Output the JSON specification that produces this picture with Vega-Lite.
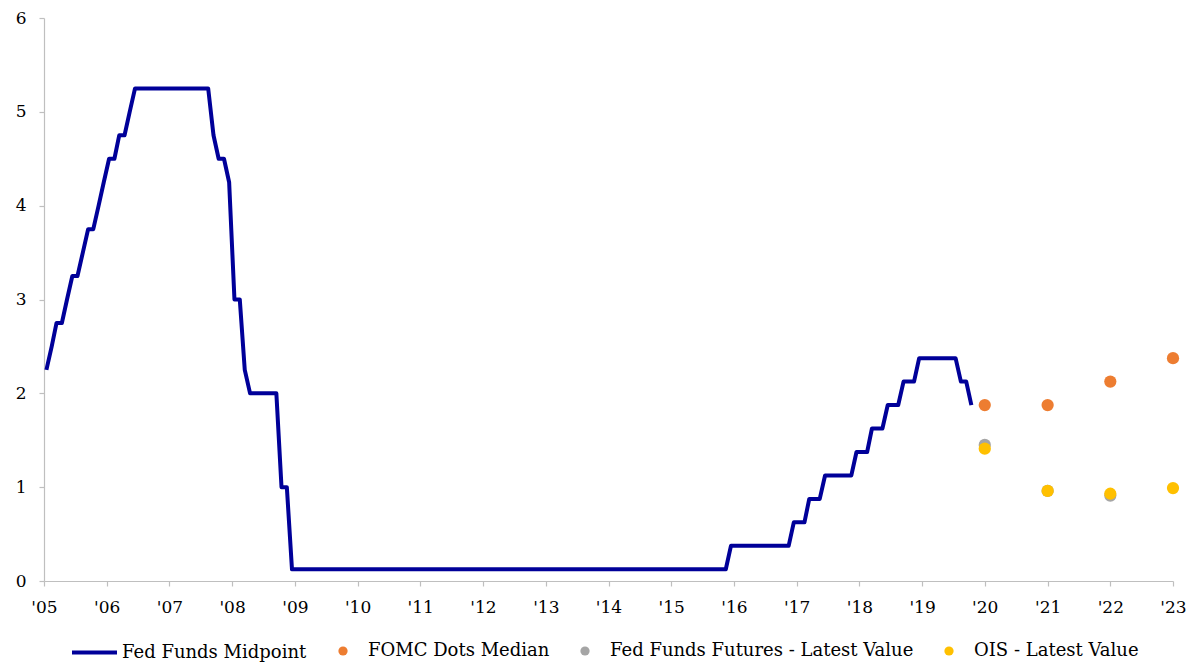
{
  "$schema": "https://vega.github.io/schema/vega-lite/v6.json",
  "width": 1129,
  "height": 563,
  "autosize": {"type": "none"},
  "padding": {"left": 44, "top": 18, "right": 20, "bottom": 81},
  "background": "white",
  "config": {
    "view": {"stroke": null},
    "font": "DejaVu Serif",
    "axis": {
      "grid": false,
      "domainColor": "#BFBFBF",
      "tickColor": "#BFBFBF",
      "domainWidth": 1.2,
      "tickWidth": 1.2,
      "tickSize": 5,
      "labelPadding": 13,
      "labelFlush": false,
      "labelFont": "DejaVu Serif",
      "labelFontSize": 17,
      "labelColor": "#000000",
      "title": null
    },
    "legend": {
      "labelFont": "DejaVu Serif",
      "labelFontSize": 18,
      "labelColor": "#000000",
      "padding": 0,
      "title": null
    }
  },
  "layer": [
    {
      "data": {
        "values": [
          {"d": "2005-01-15", "v": 2.25}, {"d": "2005-02-15", "v": 2.5}, {"d": "2005-03-15", "v": 2.75}, {"d": "2005-04-15", "v": 2.75},
          {"d": "2005-05-15", "v": 3.0}, {"d": "2005-06-15", "v": 3.25}, {"d": "2005-07-15", "v": 3.25}, {"d": "2005-08-15", "v": 3.5},
          {"d": "2005-09-15", "v": 3.75}, {"d": "2005-10-15", "v": 3.75}, {"d": "2005-11-15", "v": 4.0}, {"d": "2005-12-15", "v": 4.25},
          {"d": "2006-01-15", "v": 4.5}, {"d": "2006-02-15", "v": 4.5}, {"d": "2006-03-15", "v": 4.75}, {"d": "2006-04-15", "v": 4.75},
          {"d": "2006-05-15", "v": 5.0}, {"d": "2006-06-15", "v": 5.25}, {"d": "2006-07-15", "v": 5.25}, {"d": "2006-08-15", "v": 5.25},
          {"d": "2006-09-15", "v": 5.25}, {"d": "2006-10-15", "v": 5.25}, {"d": "2006-11-15", "v": 5.25}, {"d": "2006-12-15", "v": 5.25},
          {"d": "2007-01-15", "v": 5.25}, {"d": "2007-02-15", "v": 5.25}, {"d": "2007-03-15", "v": 5.25}, {"d": "2007-04-15", "v": 5.25},
          {"d": "2007-05-15", "v": 5.25}, {"d": "2007-06-15", "v": 5.25}, {"d": "2007-07-15", "v": 5.25}, {"d": "2007-08-15", "v": 5.25},
          {"d": "2007-09-15", "v": 4.75}, {"d": "2007-10-15", "v": 4.5}, {"d": "2007-11-15", "v": 4.5}, {"d": "2007-12-15", "v": 4.25},
          {"d": "2008-01-15", "v": 3.0}, {"d": "2008-02-15", "v": 3.0}, {"d": "2008-03-15", "v": 2.25}, {"d": "2008-04-15", "v": 2.0},
          {"d": "2008-05-15", "v": 2.0}, {"d": "2008-06-15", "v": 2.0}, {"d": "2008-07-15", "v": 2.0}, {"d": "2008-08-15", "v": 2.0},
          {"d": "2008-09-15", "v": 2.0}, {"d": "2008-10-15", "v": 1.0}, {"d": "2008-11-15", "v": 1.0}, {"d": "2008-12-15", "v": 0.125},
          {"d": "2009-01-15", "v": 0.125}, {"d": "2009-02-15", "v": 0.125}, {"d": "2009-03-15", "v": 0.125}, {"d": "2009-04-15", "v": 0.125},
          {"d": "2009-05-15", "v": 0.125}, {"d": "2009-06-15", "v": 0.125}, {"d": "2009-07-15", "v": 0.125}, {"d": "2009-08-15", "v": 0.125},
          {"d": "2009-09-15", "v": 0.125}, {"d": "2009-10-15", "v": 0.125}, {"d": "2009-11-15", "v": 0.125}, {"d": "2009-12-15", "v": 0.125},
          {"d": "2010-01-15", "v": 0.125}, {"d": "2010-02-15", "v": 0.125}, {"d": "2010-03-15", "v": 0.125}, {"d": "2010-04-15", "v": 0.125},
          {"d": "2010-05-15", "v": 0.125}, {"d": "2010-06-15", "v": 0.125}, {"d": "2010-07-15", "v": 0.125}, {"d": "2010-08-15", "v": 0.125},
          {"d": "2010-09-15", "v": 0.125}, {"d": "2010-10-15", "v": 0.125}, {"d": "2010-11-15", "v": 0.125}, {"d": "2010-12-15", "v": 0.125},
          {"d": "2011-01-15", "v": 0.125}, {"d": "2011-02-15", "v": 0.125}, {"d": "2011-03-15", "v": 0.125}, {"d": "2011-04-15", "v": 0.125},
          {"d": "2011-05-15", "v": 0.125}, {"d": "2011-06-15", "v": 0.125}, {"d": "2011-07-15", "v": 0.125}, {"d": "2011-08-15", "v": 0.125},
          {"d": "2011-09-15", "v": 0.125}, {"d": "2011-10-15", "v": 0.125}, {"d": "2011-11-15", "v": 0.125}, {"d": "2011-12-15", "v": 0.125},
          {"d": "2012-01-15", "v": 0.125}, {"d": "2012-02-15", "v": 0.125}, {"d": "2012-03-15", "v": 0.125}, {"d": "2012-04-15", "v": 0.125},
          {"d": "2012-05-15", "v": 0.125}, {"d": "2012-06-15", "v": 0.125}, {"d": "2012-07-15", "v": 0.125}, {"d": "2012-08-15", "v": 0.125},
          {"d": "2012-09-15", "v": 0.125}, {"d": "2012-10-15", "v": 0.125}, {"d": "2012-11-15", "v": 0.125}, {"d": "2012-12-15", "v": 0.125},
          {"d": "2013-01-15", "v": 0.125}, {"d": "2013-02-15", "v": 0.125}, {"d": "2013-03-15", "v": 0.125}, {"d": "2013-04-15", "v": 0.125},
          {"d": "2013-05-15", "v": 0.125}, {"d": "2013-06-15", "v": 0.125}, {"d": "2013-07-15", "v": 0.125}, {"d": "2013-08-15", "v": 0.125},
          {"d": "2013-09-15", "v": 0.125}, {"d": "2013-10-15", "v": 0.125}, {"d": "2013-11-15", "v": 0.125}, {"d": "2013-12-15", "v": 0.125},
          {"d": "2014-01-15", "v": 0.125}, {"d": "2014-02-15", "v": 0.125}, {"d": "2014-03-15", "v": 0.125}, {"d": "2014-04-15", "v": 0.125},
          {"d": "2014-05-15", "v": 0.125}, {"d": "2014-06-15", "v": 0.125}, {"d": "2014-07-15", "v": 0.125}, {"d": "2014-08-15", "v": 0.125},
          {"d": "2014-09-15", "v": 0.125}, {"d": "2014-10-15", "v": 0.125}, {"d": "2014-11-15", "v": 0.125}, {"d": "2014-12-15", "v": 0.125},
          {"d": "2015-01-15", "v": 0.125}, {"d": "2015-02-15", "v": 0.125}, {"d": "2015-03-15", "v": 0.125}, {"d": "2015-04-15", "v": 0.125},
          {"d": "2015-05-15", "v": 0.125}, {"d": "2015-06-15", "v": 0.125}, {"d": "2015-07-15", "v": 0.125}, {"d": "2015-08-15", "v": 0.125},
          {"d": "2015-09-15", "v": 0.125}, {"d": "2015-10-15", "v": 0.125}, {"d": "2015-11-15", "v": 0.125}, {"d": "2015-12-15", "v": 0.375},
          {"d": "2016-01-15", "v": 0.375}, {"d": "2016-02-15", "v": 0.375}, {"d": "2016-03-15", "v": 0.375}, {"d": "2016-04-15", "v": 0.375},
          {"d": "2016-05-15", "v": 0.375}, {"d": "2016-06-15", "v": 0.375}, {"d": "2016-07-15", "v": 0.375}, {"d": "2016-08-15", "v": 0.375},
          {"d": "2016-09-15", "v": 0.375}, {"d": "2016-10-15", "v": 0.375}, {"d": "2016-11-15", "v": 0.375}, {"d": "2016-12-15", "v": 0.625},
          {"d": "2017-01-15", "v": 0.625}, {"d": "2017-02-15", "v": 0.625}, {"d": "2017-03-15", "v": 0.875}, {"d": "2017-04-15", "v": 0.875},
          {"d": "2017-05-15", "v": 0.875}, {"d": "2017-06-15", "v": 1.125}, {"d": "2017-07-15", "v": 1.125}, {"d": "2017-08-15", "v": 1.125},
          {"d": "2017-09-15", "v": 1.125}, {"d": "2017-10-15", "v": 1.125}, {"d": "2017-11-15", "v": 1.125}, {"d": "2017-12-15", "v": 1.375},
          {"d": "2018-01-15", "v": 1.375}, {"d": "2018-02-15", "v": 1.375}, {"d": "2018-03-15", "v": 1.625}, {"d": "2018-04-15", "v": 1.625},
          {"d": "2018-05-15", "v": 1.625}, {"d": "2018-06-15", "v": 1.875}, {"d": "2018-07-15", "v": 1.875}, {"d": "2018-08-15", "v": 1.875},
          {"d": "2018-09-15", "v": 2.125}, {"d": "2018-10-15", "v": 2.125}, {"d": "2018-11-15", "v": 2.125}, {"d": "2018-12-15", "v": 2.375},
          {"d": "2019-01-15", "v": 2.375}, {"d": "2019-02-15", "v": 2.375}, {"d": "2019-03-15", "v": 2.375}, {"d": "2019-04-15", "v": 2.375},
          {"d": "2019-05-15", "v": 2.375}, {"d": "2019-06-15", "v": 2.375}, {"d": "2019-07-15", "v": 2.375}, {"d": "2019-08-15", "v": 2.125},
          {"d": "2019-09-15", "v": 2.125}, {"d": "2019-10-15", "v": 1.875}
        ]
      },
      "mark": {"type": "line", "strokeWidth": 4, "strokeJoin": "round"},
      "encoding": {
        "x": {
          "field": "d",
          "type": "temporal",
          "scale": {
            "type": "utc",
            "domain": [{"year": 2005, "month": 1, "date": 1, "utc": true}, {"year": 2023, "month": 1, "date": 1, "utc": true}]
          },
          "axis": {
            "format": "'%y",
            "labelFlush": false,
            "values": [
              {"year": 2005, "utc": true}, {"year": 2006, "utc": true}, {"year": 2007, "utc": true}, {"year": 2008, "utc": true},
              {"year": 2009, "utc": true}, {"year": 2010, "utc": true}, {"year": 2011, "utc": true}, {"year": 2012, "utc": true},
              {"year": 2013, "utc": true}, {"year": 2014, "utc": true}, {"year": 2015, "utc": true}, {"year": 2016, "utc": true},
              {"year": 2017, "utc": true}, {"year": 2018, "utc": true}, {"year": 2019, "utc": true}, {"year": 2020, "utc": true},
              {"year": 2021, "utc": true}, {"year": 2022, "utc": true}, {"year": 2023, "utc": true}
            ]
          }
        },
        "y": {
          "field": "v",
          "type": "quantitative",
          "scale": {"domain": [0, 6], "nice": false, "zero": true},
          "axis": {"values": [0, 1, 2, 3, 4, 5, 6], "format": "d", "labelFlush": false}
        },
        "stroke": {
          "datum": "Fed Funds Midpoint",
          "type": "nominal",
          "scale": {"range": ["#000099"]},
          "legend": {
            "orient": "none",
            "legendX": 26,
            "legendY": 610,
            "symbolType": "stroke",
            "symbolSize": 2025,
            "symbolStrokeWidth": 4,
            "labelOffset": 3,
            "labelLimit": 400
          }
        }
      }
    },
    {
      "data": {
        "values": [
          {"d": "2020-01-01", "v": 1.875, "s": "FOMC Dots Median"},
          {"d": "2021-01-01", "v": 1.875, "s": "FOMC Dots Median"},
          {"d": "2022-01-01", "v": 2.125, "s": "FOMC Dots Median"},
          {"d": "2023-01-01", "v": 2.375, "s": "FOMC Dots Median"},
          {"d": "2020-01-01", "v": 1.45, "s": "Fed Funds Futures - Latest Value"},
          {"d": "2021-01-01", "v": 0.96, "s": "Fed Funds Futures - Latest Value"},
          {"d": "2022-01-01", "v": 0.91, "s": "Fed Funds Futures - Latest Value"},
          {"d": "2020-01-01", "v": 1.41, "s": "OIS - Latest Value"},
          {"d": "2021-01-01", "v": 0.96, "s": "OIS - Latest Value"},
          {"d": "2022-01-01", "v": 0.93, "s": "OIS - Latest Value"},
          {"d": "2023-01-01", "v": 0.99, "s": "OIS - Latest Value"}
        ]
      },
      "mark": {"type": "point", "filled": true, "size": 150, "opacity": 1, "shape": "circle"},
      "encoding": {
        "x": {"field": "d", "type": "temporal"},
        "y": {"field": "v", "type": "quantitative"},
        "fill": {
          "field": "s",
          "type": "nominal",
          "scale": {
            "domain": ["FOMC Dots Median", "Fed Funds Futures - Latest Value", "OIS - Latest Value"],
            "range": ["#ED7D31", "#A5A5A5", "#FFC000"]
          },
          "legend": {
            "orient": "none",
            "legendX": 290,
            "legendY": 624,
            "direction": "horizontal",
            "columns": 3,
            "symbolType": "circle",
            "symbolSize": 85,
            "symbolStrokeWidth": 0,
            "labelOffset": 16,
            "columnPadding": 26,
            "labelLimit": 500
          }
        }
      }
    }
  ]
}
